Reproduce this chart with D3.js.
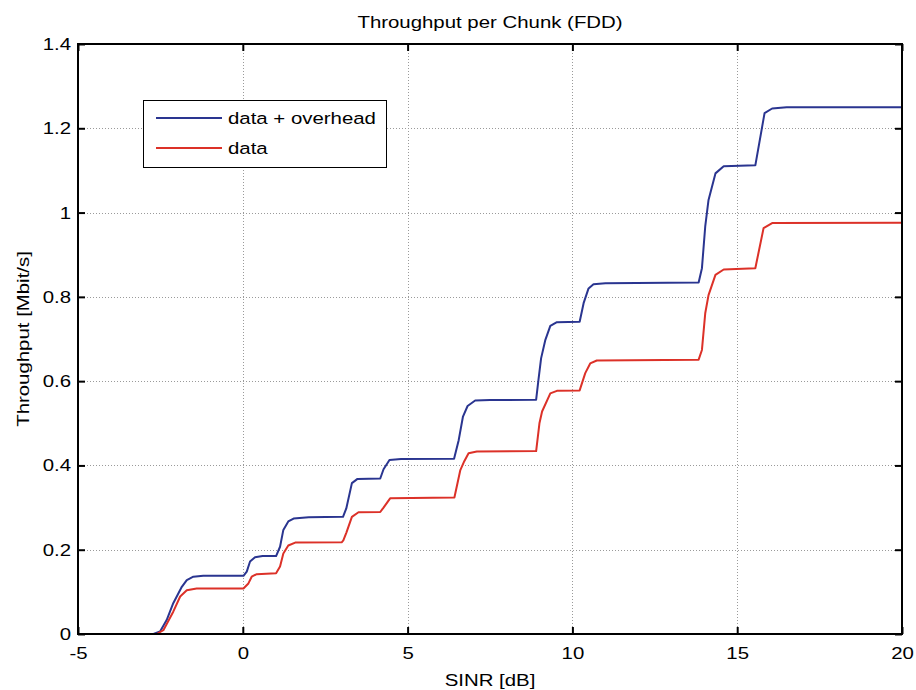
<!DOCTYPE html>
<html>
<head>
<meta charset="utf-8">
<script src="https://cdn.jsdelivr.net/npm/d3@7"></script>
<style>
  html, body { margin: 0; padding: 0; background: #fff; }
  svg { display: block; font-family: "Liberation Sans", Arial, Helvetica, sans-serif; }
</style>
</head>
<body>
<svg id="chart" width="916" height="690"></svg>
<script>
// ---- data ----
const chartTitle = "Throughput per Chunk (FDD)";
const xLabel = "SINR [dB]";
const yLabel = "Throughput [Mbit/s]";
const xTicks = [-5, 0, 5, 10, 15, 20];
const yTicks = [0, 0.2, 0.4, 0.6, 0.8, 1, 1.2, 1.4];
const seriesNames = ["data + overhead", "data"];

const sinrOverhead = [-5, -2.71, -2.51, -2.31, -2.11, -1.85, -1.70, -1.50, -1.2,
  0.02, 0.12, 0.22, 0.37, 0.6,
  1.01, 1.13, 1.23, 1.38, 1.54, 2.0,
  3.04, 3.14, 3.31, 3.48,
  4.17, 4.27, 4.45, 4.8,
  6.41, 6.55, 6.68, 6.82, 7.05, 7.5,
  8.90, 8.97, 9.05, 9.18, 9.33, 9.53,
  10.22, 10.34, 10.49, 10.64, 11.0,
  13.83, 13.93, 14.03, 14.13, 14.34, 14.59,
  15.55, 15.83, 16.06, 16.5, 20];
const tputOverhead = [0, 0, 0.006, 0.033, 0.073, 0.112, 0.128, 0.136, 0.138,
  0.138, 0.148, 0.172, 0.182, 0.185,
  0.185, 0.207, 0.247, 0.267, 0.274, 0.277,
  0.278, 0.298, 0.358, 0.368,
  0.369, 0.391, 0.413, 0.415,
  0.416, 0.46, 0.516, 0.541, 0.554, 0.555,
  0.556, 0.603, 0.654, 0.698, 0.731, 0.740,
  0.741, 0.785, 0.820, 0.830, 0.832,
  0.834, 0.868, 0.967, 1.03, 1.093, 1.11,
  1.112, 1.236, 1.247, 1.25, 1.25];

const sinrData = [-5, -2.61, -2.41, -2.11, -1.90, -1.70, -1.40,
  0.02, 0.17, 0.27, 0.42,
  1.01, 1.13, 1.23, 1.38, 1.59,
  3.0, 3.05, 3.14, 3.31, 3.51,
  4.17, 4.27, 4.47,
  6.42, 6.6, 6.72, 6.85, 7.1,
  8.90, 9.0, 9.08, 9.33, 9.53,
  10.22, 10.39, 10.54, 10.74,
  13.83, 13.93, 14.03, 14.13, 14.34, 14.59,
  15.55, 15.80, 16.06, 20];
const tputData = [0, 0, 0.009, 0.053, 0.089, 0.104, 0.108,
  0.108, 0.120, 0.136, 0.142,
  0.144, 0.160, 0.191, 0.210, 0.217,
  0.2175, 0.222, 0.24, 0.278, 0.289,
  0.2895, 0.30, 0.322,
  0.324, 0.389, 0.41, 0.429, 0.433,
  0.434, 0.50, 0.528, 0.571, 0.577,
  0.578, 0.619, 0.642, 0.649,
  0.651, 0.674, 0.761, 0.804, 0.852, 0.865,
  0.868, 0.963, 0.975, 0.976];

// ---- layout ----
const W = 916, H = 690;
const m = { left: 78, right: 14, top: 44, bottom: 56 };
const colors = ["#2a3590", "#dc3128"];
const SX = 1.2; // horizontal glyph stretch seen in the reference

const svg = d3.select("#chart");
const x = d3.scaleLinear().domain([-5, 20]).range([m.left, W - m.right]);
const y = d3.scaleLinear().domain([0, 1.4]).range([H - m.bottom, m.top]);

// grid
const grid = svg.append("g").attr("stroke", "#9a9a9a").attr("stroke-width", 1)
  .attr("stroke-dasharray", "1,2").attr("shape-rendering", "crispEdges");
xTicks.slice(1, -1).forEach(t => {
  grid.append("line").attr("x1", Math.round(x(t)) + 0.5).attr("x2", Math.round(x(t)) + 0.5)
    .attr("y1", y(1.4)).attr("y2", y(0));
});
yTicks.slice(1, -1).forEach(t => {
  grid.append("line").attr("y1", Math.round(y(t)) + 0.5).attr("y2", Math.round(y(t)) + 0.5)
    .attr("x1", x(-5)).attr("x2", x(20));
});

// axes
const tickFmt = d => String(d);
const axB = svg.append("g").attr("transform", `translate(0,${y(0)})`)
  .call(d3.axisBottom(x).tickValues(xTicks).tickFormat(tickFmt).tickSizeInner(-7).tickSizeOuter(0).tickPadding(13));
const axT = svg.append("g").attr("transform", `translate(0,${y(1.4)})`)
  .call(d3.axisTop(x).tickValues(xTicks).tickFormat("").tickSizeInner(-7).tickSizeOuter(0));
const axL = svg.append("g").attr("transform", `translate(${x(-5)},0)`)
  .call(d3.axisLeft(y).tickValues(yTicks).tickFormat(tickFmt).tickSizeInner(-7).tickSizeOuter(0).tickPadding(7));
const axR = svg.append("g").attr("transform", `translate(${x(20)},0)`)
  .call(d3.axisRight(y).tickValues(yTicks).tickFormat("").tickSizeInner(-7).tickSizeOuter(0));
[axB, axT, axL, axR].forEach(a => {
  a.select(".domain").remove();
  a.selectAll(".tick line").attr("stroke", "#000").attr("stroke-width", 2);
  a.selectAll("text").attr("font-size", 17).attr("fill", "#000")
    .attr("font-family", "'Liberation Sans', Arial, sans-serif")
    .each(function () {
      const t = d3.select(this);
      const x0 = +(t.attr("x") || 0);
      t.attr("x", x0 / SX).attr("transform", `scale(${SX},1)`);
    });
});

// lines
const mk = (xs, ys) => xs.map((v, i) => [v, ys[i]]);
const line = d3.line().x(d => x(d[0])).y(d => y(d[1]));
const series = [mk(sinrOverhead, tputOverhead), mk(sinrData, tputData)];
svg.append("g").selectAll("path").data(series).join("path")
  .attr("d", line).attr("fill", "none")
  .attr("stroke", (d, i) => colors[i]).attr("stroke-width", 2)
  .attr("stroke-linejoin", "round");

// frame
svg.append("rect").attr("x", x(-5)).attr("y", y(1.4))
  .attr("width", x(20) - x(-5)).attr("height", y(0) - y(1.4))
  .attr("fill", "none").attr("stroke", "#000").attr("stroke-width", 2);

// stretched text helper
function sText(parent, px, py, str, size, anchor, rot) {
  return parent.append("text")
    .attr("transform", `translate(${px},${py})${rot ? ` rotate(${rot})` : ""} scale(${SX},1)`)
    .attr("text-anchor", anchor || "start").attr("font-size", size).attr("fill", "#000").text(str);
}

// legend
const lg = svg.append("g").attr("transform", "translate(143,100)");
lg.append("rect").attr("x", 0.5).attr("y", 0.5).attr("width", 243).attr("height", 67)
  .attr("fill", "#fff").attr("stroke", "#000").attr("stroke-width", 1);
seriesNames.forEach((n, i) => {
  const yy = 18 + i * 30;
  lg.append("line").attr("x1", 13).attr("x2", 79).attr("y1", yy).attr("y2", yy)
    .attr("stroke", colors[i]).attr("stroke-width", 2);
  sText(lg, 85, yy + 6, n, 17, "start");
});

// titles
const cx = (x(-5) + x(20)) / 2;
sText(svg, cx, 28, chartTitle, 17, "middle");
sText(svg, cx, 686, xLabel, 17, "middle");
sText(svg, 29, (y(0) + y(1.4)) / 2, yLabel, 17, "middle", -90);
</script>
</body>
</html>
